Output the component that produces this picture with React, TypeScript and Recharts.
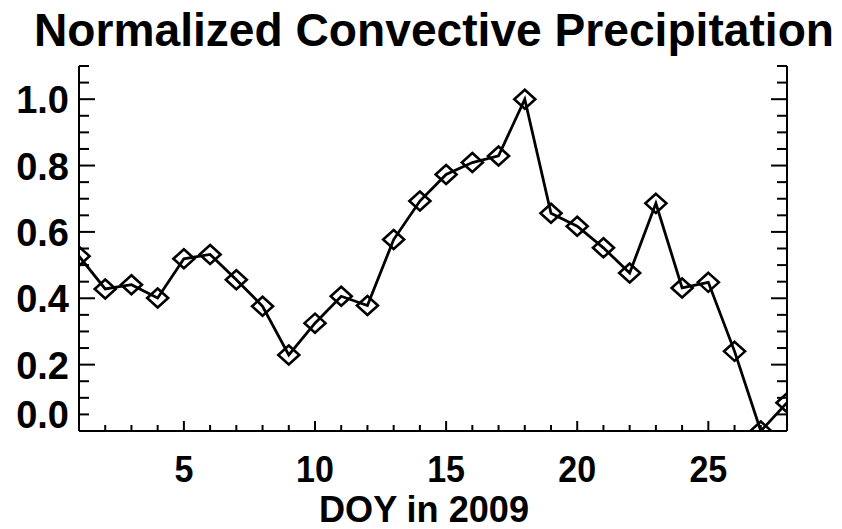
import React from 'react';
import { LineChart, Line, XAxis, YAxis, Label } from 'recharts';

// Day of year (January 2009)
const days = [1, 2, 3, 4, 5, 6, 7, 8, 9, 10, 11, 12, 13, 14, 15, 16, 17, 18, 19, 20, 21, 22, 23, 24, 25, 26, 27, 28];

// Normalized convective precipitation for each day
const precipitation = [
  0.527, 0.428, 0.441, 0.401, 0.519, 0.532, 0.456, 0.376, 0.229, 0.325,
  0.406, 0.378, 0.577, 0.693, 0.773, 0.809, 0.829, 1.0, 0.656, 0.617,
  0.552, 0.476, 0.686, 0.431, 0.448, 0.24, 0.0, 0.085,
];

// Axis ticks: every day / every 0.05, with labelled majors
const dayTicks = [1, 2, 3, 4, 5, 6, 7, 8, 9, 10, 11, 12, 13, 14, 15, 16, 17, 18, 19, 20, 21, 22, 23, 24, 25, 26, 27, 28];
const dayLabels = [5, 10, 15, 20, 25];
const valueTicks = [0, 0.05, 0.1, 0.15, 0.2, 0.25, 0.3, 0.35, 0.4, 0.45, 0.5, 0.55, 0.6, 0.65, 0.7, 0.75, 0.8, 0.85, 0.9, 0.95, 1.0, 1.05, 1.1];
const valueLabels = [0, 0.2, 0.4, 0.6, 0.8, 1.0];

const chartTitle = 'Normalized Convective Precipitation';
const xTitle = 'DOY in 2009';

const data = days.map((day, i) => ({ day, value: precipitation[i] }));

const FONT = '"Liberation Sans", Arial, Helvetica, sans-serif';
const INK = '#000';
const PLOT_RIGHT_MARGIN = 55;

function BottomTick({ x, y, payload }: any) {
  const major = dayLabels.includes(payload.value);
  return (
    <g>
      <line x1={x} x2={x} y1={y} y2={y - (major ? 10 : 6)} stroke={INK} strokeWidth={2} />
      {major && (
        <text x={x} y={y + 51} textAnchor="middle" fontSize={37} fontWeight="bold" fontFamily={FONT} fill={INK}
          transform={`translate(${x},0) scale(0.92,1) translate(${-x},0)`}>
          {payload.value}
        </text>
      )}
    </g>
  );
}

function TopTick({ x, y, payload }: any) {
  const major = dayLabels.includes(payload.value);
  return <line x1={x} x2={x} y1={y} y2={y + (major ? 10 : 7)} stroke={INK} strokeWidth={2} />;
}

function LeftTick({ x, y, payload }: any) {
  const major = valueLabels.includes(payload.value);
  // the baseline label sits lifted clear of the day labels
  const lift = payload.value === 0 ? -17 : 0;
  return (
    <g>
      <line x1={x} x2={x + (major ? 16 : 10)} y1={y} y2={y} stroke={INK} strokeWidth={2} />
      {major && (
        <text x={x - 10} y={y + lift + 14} textAnchor="end" fontSize={38} fontWeight="bold" fontFamily={FONT} fill={INK}>
          {payload.value.toFixed(1)}
        </text>
      )}
    </g>
  );
}

function RightTick({ x, y, payload }: any) {
  const major = valueLabels.includes(payload.value);
  return <line x1={x} x2={x - (major ? 16 : 10)} y1={y} y2={y} stroke={INK} strokeWidth={2} />;
}

function Diamond({ cx, cy, index }: any) {
  const w = 10.5;
  const h = 9.5;
  return (
    <path
      key={`d-${index}`}
      d={`M${cx},${cy - h} L${cx + w},${cy} L${cx},${cy + h} L${cx - w},${cy} Z`}
      fill="none"
      stroke={INK}
      strokeWidth={2.6}
    />
  );
}

// Title centred over the plot frame, drawn from the left axis's box
function TitleText({ viewBox }: any) {
  const plotLeft = viewBox.x + viewBox.width;
  const plotRight = 842 - PLOT_RIGHT_MARGIN;
  const cx = (plotLeft + plotRight) / 2;
  return (
    <text
      x={cx + 1}
      y={viewBox.y - 20}
      textAnchor="middle"
      fontSize={46}
      fontWeight="bold"
      fontFamily={FONT}
      fill={INK}
      textLength={800}
      lengthAdjust="spacingAndGlyphs"
    >
      {chartTitle}
    </text>
  );
}

function XTitleText({ viewBox }: any) {
  const cx = viewBox.x + viewBox.width / 2;
  return (
    <text x={cx - 9} y={viewBox.y + 91} textAnchor="middle" fontSize={37} fontWeight="bold" fontFamily={FONT} fill={INK}
      textLength={210} lengthAdjust="spacingAndGlyphs">
      {xTitle}
    </text>
  );
}

export default function App() {
  return (
    <div style={{ position: 'absolute', left: 0, top: 0, width: 842, height: 529, background: '#fff' }}>
      <LineChart width={842} height={529} data={data} margin={{ top: 66, right: 0, bottom: 0, left: 0 }}>
        <XAxis
          dataKey="day"
          type="number"
          domain={[1, 28]}
          ticks={dayTicks}
          interval={0}
          allowDataOverflow
          height={98}
          tickSize={0}
          tickMargin={0}
          tickLine={false}
          axisLine={{ stroke: INK, strokeWidth: 2 }}
          tick={<BottomTick />}
        >
          <Label content={<XTitleText />} />
        </XAxis>
        <XAxis
          xAxisId="top"
          orientation="top"
          dataKey="day"
          type="number"
          domain={[1, 28]}
          ticks={dayTicks}
          interval={0}
          allowDataOverflow
          height={0}
          tickSize={0}
          tickMargin={0}
          tickLine={false}
          axisLine={{ stroke: INK, strokeWidth: 2 }}
          tick={<TopTick />}
        />
        <YAxis
          type="number"
          domain={[0, 1.1]}
          ticks={valueTicks}
          interval={0}
          allowDataOverflow
          width={79}
          tickSize={0}
          tickMargin={0}
          tickLine={false}
          axisLine={{ stroke: INK, strokeWidth: 2 }}
          tick={<LeftTick />}
        >
          <Label content={<TitleText />} />
        </YAxis>
        <YAxis
          yAxisId="right"
          orientation="right"
          type="number"
          domain={[0, 1.1]}
          ticks={valueTicks}
          interval={0}
          allowDataOverflow
          width={PLOT_RIGHT_MARGIN}
          tickSize={0}
          tickMargin={0}
          tickLine={false}
          axisLine={{ stroke: INK, strokeWidth: 2 }}
          tick={<RightTick />}
        />
        <Line
          dataKey="value"
          type="linear"
          stroke={INK}
          strokeWidth={2.8}
          dot={<Diamond />}
          activeDot={false}
          isAnimationActive={false}
        />
      </LineChart>
    </div>
  );
}
